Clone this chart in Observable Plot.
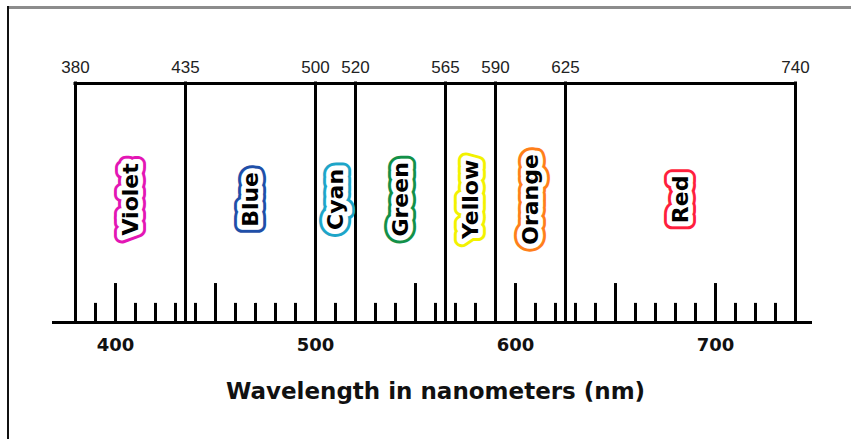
<!DOCTYPE html>
<html>
<head>
<meta charset="utf-8">
<script src="https://cdn.jsdelivr.net/npm/d3@7"></script>
<script src="https://cdn.jsdelivr.net/npm/@observablehq/plot@0.6"></script>
<style>
  html, body { margin: 0; padding: 0; background: #fff; }
  #wrap { position: relative; width: 851px; height: 439px; overflow: hidden; }
  #topline { position: absolute; left: 7px; top: 6px; right: 0; height: 3px; background: #8c8c8c; }
  #leftline { position: absolute; left: 7px; top: 6px; bottom: 0; width: 2px; background: #111; }
  #chart { position: absolute; left: 0; top: 0; }
</style>
</head>
<body>
<div id="wrap">
  <div id="chart"></div>
  <div id="topline"></div>
  <div id="leftline"></div>
</div>
<script>
const boundaries = [380, 435, 500, 520, 565, 590, 625, 740];
const bandNames = ["Violet", "Blue", "Cyan", "Green", "Yellow", "Orange", "Red"];
const bandColors = ["#e316b4", "#1f4fa8", "#1ea5c8", "#139048", "#f2f200", "#ff7f1a", "#ff1f3d"];
const majorTicks = [400, 450, 550, 600, 650, 700];
const minorTicks = [390, 410, 420, 430, 440, 460, 470, 480, 490, 510, 530, 540, 560, 570, 580, 610, 620, 630, 640, 660, 670, 680, 690, 710, 720, 730];
const axisLabels = [400, 500, 600, 700];
const axisTitle = "Wavelength in nanometers (nm)";
const xDomain = [380, 740];
const baselineExtent = [368.5, 748.5];

const bands = bandNames.map((name, i) => ({
  name, color: bandColors[i], lo: boundaries[i], hi: boundaries[i + 1]
}));

const labelFont = "DejaVu Sans, Verdana, sans-serif";
const labelY = 51.5;

const chart = Plot.plot({
  width: 851,
  height: 439,
  marginTop: 83,
  marginBottom: 117,
  marginLeft: 75,
  marginRight: 56,
  x: {domain: xDomain, axis: null},
  y: {domain: [0, 100], axis: null},
  marks: [
    Plot.ruleY([0], {x1: baselineExtent[0], x2: baselineExtent[1], stroke: "#000", strokeWidth: 3}),
    Plot.ruleY([100], {x1: xDomain[0], x2: xDomain[1], stroke: "#000", strokeWidth: 3, strokeLinecap: "square"}),
    Plot.ruleX(boundaries, {x: d => d, y1: 0, y2: 100, stroke: "#000", strokeWidth: 3, strokeLinecap: "square"}),
    Plot.ruleX(majorTicks, {x: d => d, y1: 0, y2: 16.3, stroke: "#000", strokeWidth: 3}),
    Plot.ruleX(minorTicks, {x: d => d, y1: 0, y2: 8, stroke: "#000", strokeWidth: 3}),
    Plot.text(boundaries, {x: d => d, y: 100, dy: -16, text: d => String(d), lineAnchor: "middle",
      fontFamily: "Liberation Sans, Arial, sans-serif", fontSize: 17, fill: "#222"}),
    Plot.text(axisLabels, {x: d => d, y: 0, dy: 23, text: d => String(d), lineAnchor: "middle",
      fontFamily: labelFont, fontSize: 18, fontWeight: "bold", fill: "#111"}),
    Plot.text([axisTitle], {frameAnchor: "bottom", dy: 69, lineAnchor: "middle", text: d => d,
      fontFamily: labelFont, fontSize: 23, fontWeight: "bold", fill: "#111"}),
    Plot.text(bands, {x: d => (d.lo + d.hi) / 2, y: labelY, text: "name", rotate: -90,
      fontFamily: labelFont, fontSize: 22, fontWeight: "bold",
      fill: d => d.color, stroke: d => d.color, strokeWidth: 16, strokeLinejoin: "round"}),
    Plot.text(bands, {x: d => (d.lo + d.hi) / 2, y: labelY, text: "name", rotate: -90,
      fontFamily: labelFont, fontSize: 22, fontWeight: "bold",
      fill: "#fff", stroke: "#fff", strokeWidth: 10, strokeLinejoin: "round"}),
    Plot.text(bands, {x: d => (d.lo + d.hi) / 2, y: labelY, text: "name", rotate: -90,
      fontFamily: labelFont, fontSize: 22, fontWeight: "bold", fill: "#000"})
  ]
});
chart.style.color = "#000";
document.getElementById("chart").appendChild(chart);
</script>
</body>
</html>
